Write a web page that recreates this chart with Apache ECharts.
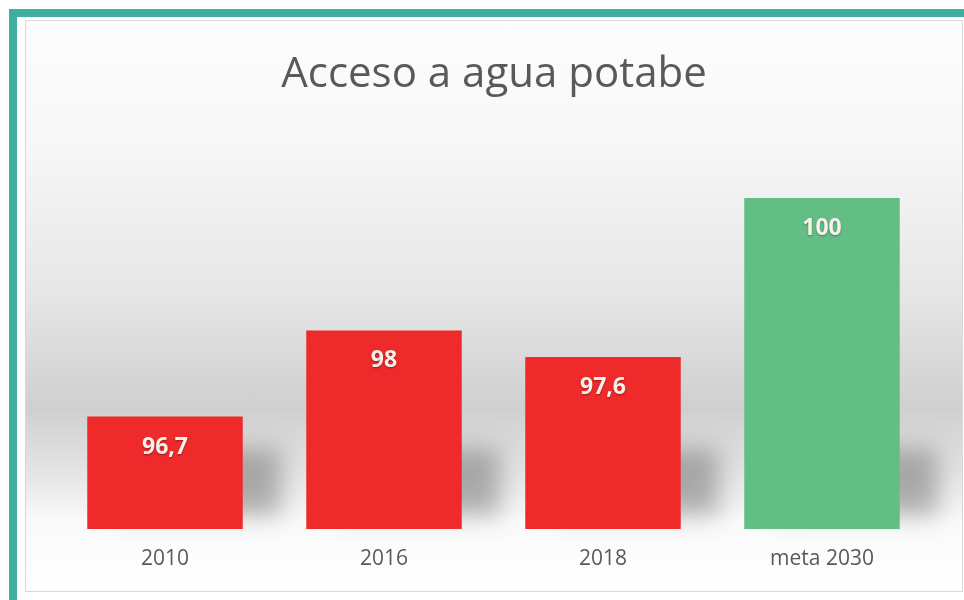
<!DOCTYPE html>
<html lang="es">
<head>
    <meta charset="UTF-8">
    <title>Acceso a agua potabe</title>
    <script src="https://cdn.jsdelivr.net/npm/echarts@6/dist/echarts.min.js"></script>
    <style>
        body {
            margin: 0;
            padding: 0;
            width: 964px;
            height: 600px;
            background: #ffffff;
            position: relative;
            overflow: hidden;
        }
        .frame-top {
            position: absolute;
            left: 9px;
            top: 9px;
            width: 955px;
            height: 8px;
            background: #3eaea0;
        }
        .frame-left {
            position: absolute;
            left: 9px;
            top: 9px;
            width: 8px;
            height: 591px;
            background: #3eaea0;
        }
        #chart {
            position: absolute;
            left: 25px;
            top: 20px;
            width: 936px;
            height: 570px;
            border: 1px solid #d9d9d9;
            background: linear-gradient(to bottom, #fdfdfd 0%, #f7f7f7 22%, #e6e6e6 48%, #cfcfcf 68%, #e6e6e6 80%, #fafafa 88%, #ffffff 100%);
        }
    </style>
</head>
<body>
<div class="frame-top"></div>
<div class="frame-left"></div>
<div id="chart"></div>

<script>
    // datos
    var categories = ['2010', '2016', '2018', 'meta 2030'];
    var values = [96.7, 98, 97.6, 100];
    var labels = ['96,7', '98', '97,6', '100'];
    var barColors = ['#ee2a2a', '#ee2a2a', '#ee2a2a', '#63be86'];

    var chart = echarts.init(document.getElementById('chart'));

    var option = {
        backgroundColor: 'transparent',
        animation: false,
        title: {
            text: 'Acceso a agua potabe',
            left: 'center',
            top: 28,
            textStyle: {
                fontFamily: 'Open Sans',
                fontSize: 42,
                fontWeight: 'normal',
                color: '#595959'
            }
        },
        grid: {
            left: 29.5,
            right: 30.5,
            top: 177,
            bottom: 62
        },
        xAxis: {
            type: 'category',
            data: categories,
            axisLine: { show: false },
            axisTick: { show: false },
            axisLabel: {
                margin: 20,
                fontFamily: 'Open Sans',
                fontSize: 21,
                color: '#595959'
            }
        },
        yAxis: {
            type: 'value',
            min: 95,
            max: 100,
            show: false,
            splitLine: { show: false }
        },
        series: [
            {
                // sombra difusa: el rectángulo queda fuera y solo se ve su sombra
                type: 'custom',
                z: 1,
                silent: true,
                clip: false,
                data: values.map(function (v, i) { return [i, v]; }),
                renderItem: function (params, api) {
                    var base = api.coord([api.value(0), 95]);
                    var w = api.size([1, 0])[0] * 0.71;
                    return {
                        type: 'rect',
                        shape: {
                            x: base[0] - w / 2 + 34 - 2000,
                            y: base[1] - 80,
                            width: w + 4,
                            height: 66
                        },
                        style: {
                            fill: '#888',
                            shadowBlur: 24,
                            shadowOffsetX: 2000,
                            shadowColor: 'rgba(90,90,90,0.45)'
                        }
                    };
                }
            },
            {
                type: 'bar',
                z: 2,
                barCategoryGap: '29%',
                data: values.map(function (v, i) {
                    return {
                        value: v,
                        itemStyle: { color: barColors[i] }
                    };
                }),
                label: {
                    show: true,
                    position: 'insideTop',
                    distance: 19,
                    formatter: function (p) { return labels[p.dataIndex]; },
                    fontFamily: 'Open Sans',
                    fontSize: 23,
                    fontWeight: 'bold',
                    color: '#f6f1ea',
                    textShadowColor: 'rgba(0,0,0,0.35)',
                    textShadowBlur: 2,
                    textShadowOffsetY: 1
                }
            }
        ]
    };

    chart.setOption(option);
</script>
</body>
</html>
